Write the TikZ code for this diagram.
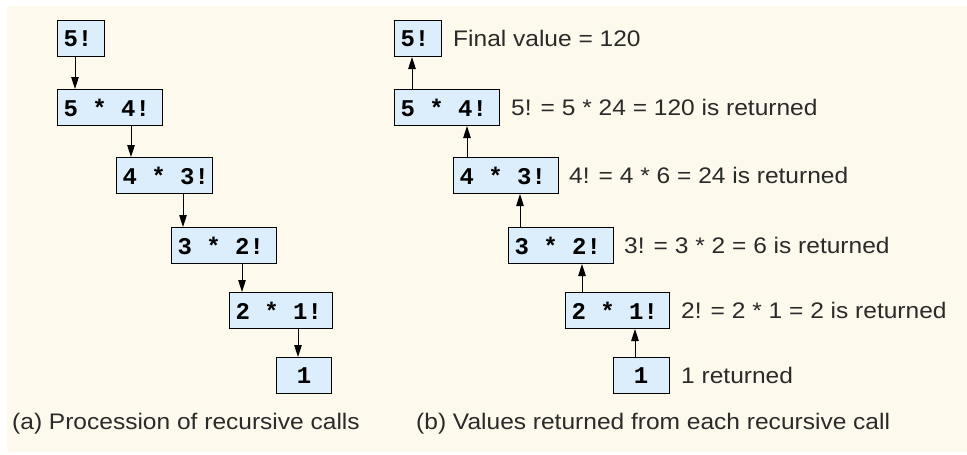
\documentclass[tikz,border=0pt]{standalone}
\usepackage{fontspec}
\setmainfont{Liberation Sans}[FakeStretch=1.09]
\setmonofont{Liberation Mono}
\usetikzlibrary{arrows.meta}
\definecolor{bgcream}{HTML}{FDF9EC}
\definecolor{boxblue}{HTML}{DCEEFB}
\definecolor{txtgray}{HTML}{2A2A2A}
\newcommand\cellsp{\hphantom{0}}
\begin{document}
\begin{tikzpicture}[x=1pt,y=-1pt,
  fbox/.style={draw=black, line width=1pt, fill=boxblue, anchor=north west,
    minimum height=36pt, inner xsep=6pt, inner ysep=0pt, align=left,
    font=\fontsize{24}{26}\selectfont\ttfamily\bfseries, text=black},
  lbl/.style={anchor=west, inner sep=0pt, font=\fontsize{22.5}{24}\selectfont, text=txtgray},
  captext/.style={anchor=base west, inner sep=0pt, font=\fontsize{22.5}{24}\selectfont, text=txtgray},
  arr/.style={-{Triangle[length=12pt,width=7.5pt]}, line width=1pt}]
\useasboundingbox (0,0) rectangle (967,455);
\fill[bgcream] (7,6) rectangle (967,452);

% (a) procession of recursive calls
\node[fbox, text width=35pt] (a1) at (57,20)  {\mbox{5!}};
\node[fbox, text width=93pt] (a2) at (57,89)  {\mbox{5\cellsp*\cellsp4!}};
\node[fbox, text width=84pt] (a3) at (116,157) {\mbox{4\cellsp*\cellsp3!}};
\node[fbox, text width=93pt] (a4) at (171,227) {\mbox{3\cellsp*\cellsp2!}};
\node[fbox, text width=91pt] (a5) at (229,292) {\mbox{2\cellsp*\cellsp1!}};
\node[fbox, text width=43pt] (a6) at (276,357) {\mbox{\cellsp1}};

\coordinate (xa1) at (75,0);
\coordinate (xa2) at (131,0);
\coordinate (xa3) at (183,0);
\coordinate (xa4) at (242,0);
\coordinate (xa5) at (298,0);
\draw[arr] (a1.south -| xa1) -- (a2.north -| xa1);
\draw[arr] (a2.south -| xa2) -- (a3.north -| xa2);
\draw[arr] (a3.south -| xa3) -- (a4.north -| xa3);
\draw[arr] (a4.south -| xa4) -- (a5.north -| xa4);
\draw[arr] (a5.south -| xa5) -- (a6.north -| xa5);

% (b) values returned
\node[fbox, text width=35pt] (b1) at (394,20)  {\mbox{5!}};
\node[fbox, text width=93pt] (b2) at (394,89)  {\mbox{5\cellsp*\cellsp4!}};
\node[fbox, text width=93pt] (b3) at (453,157) {\mbox{4\cellsp*\cellsp3!}};
\node[fbox, text width=93pt] (b4) at (508,227) {\mbox{3\cellsp*\cellsp2!}};
\node[fbox, text width=92pt] (b5) at (565,292) {\mbox{2\cellsp*\cellsp1!}};
\node[fbox, text width=44pt] (b6) at (613,357) {\mbox{\cellsp1}};

\coordinate (xb1) at (412,0);
\coordinate (xb2) at (467,0);
\coordinate (xb3) at (520,0);
\coordinate (xb4) at (582,0);
\coordinate (xb5) at (635,0);
\draw[arr] (b2.north -| xb1) -- (b1.south -| xb1);
\draw[arr] (b3.north -| xb2) -- (b2.south -| xb2);
\draw[arr] (b4.north -| xb3) -- (b3.south -| xb3);
\draw[arr] (b5.north -| xb4) -- (b4.south -| xb4);
\draw[arr] (b6.north -| xb5) -- (b5.south -| xb5);

\node[lbl] (l1) at ([xshift=11pt]b1.east) {Final value = 120};
\node[lbl] (l2) at ([xshift=11pt]b2.east) {5! = 5 * 24 = 120 is returned};
\node[lbl] (l3) at ([xshift=10pt]b3.east) {4! = 4 * 6 = 24 is returned};
\node[lbl] (l4) at ([xshift=10pt]b4.east) {3! = 3 * 2 = 6 is returned};
\node[lbl] (l5) at ([xshift=11pt]b5.east) {2! = 2 * 1 = 2 is returned};
\node[lbl] (l6) at ([xshift=11pt]b6.east) {1 returned};

\node[captext] (ca) at (12,429) {(a) Procession of recursive calls};
\node[captext] (cb) at (416,429) {(b) Values returned from each recursive call};
\end{tikzpicture}
\end{document}
